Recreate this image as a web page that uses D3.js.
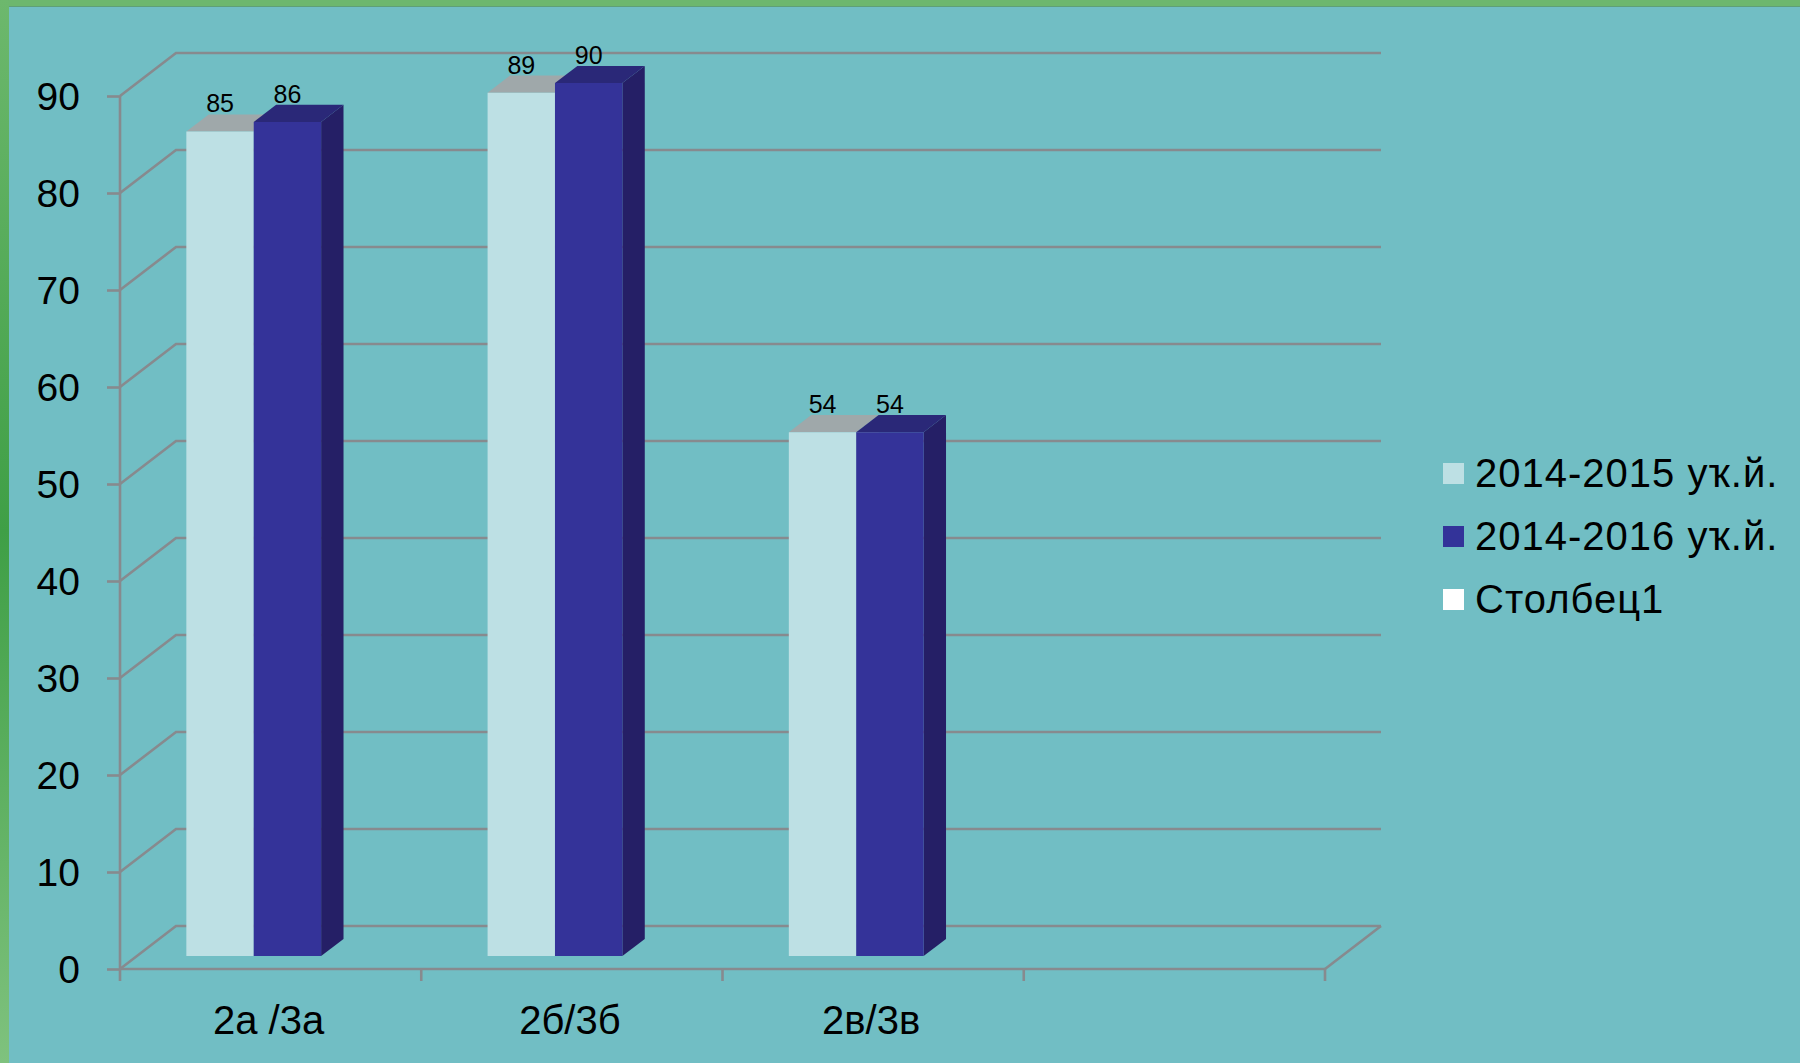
<!DOCTYPE html>
<html>
<head>
<meta charset="utf-8">
<script src="https://cdn.jsdelivr.net/npm/d3@7"></script>
<style>
  html, body { margin: 0; padding: 0; background: #71bec4; }
  svg { display: block; font-family: "Liberation Sans", Arial, sans-serif; }
</style>
</head>
<body>
<svg id="chart" width="1800" height="1063"></svg>
<script>
// ---- data ----
const categories = ["2а /3а", "2б/3б", "2в/3в", ""];
const seriesNames = ["2014-2015 уҡ.й.", "2014-2016 уҡ.й.", "Столбец1"];
const series2015 = [85, 89, 54, null];
const series2016 = [86, 90, 54, null];
const seriesCol1 = [null, null, null, null];
const yTicks = [0, 10, 20, 30, 40, 50, 60, 70, 80, 90];

const seriesValues = [series2015, series2016, seriesCol1];
const frontColors = ["#bde0e4", "#343399", "#ffffff"];
const topColors = ["#9fa8aa", "#2a2878", "#e8e8e8"];
const sideColors = ["#95c4c8", "#251f66", "#d0d0d0"];
const legendColors = ["#bde0e4", "#333399", "#ffffff"];

const svg = d3.select("#chart");
const W = 1800, H = 1063;

// frame
const defs = svg.append("defs");
const g1 = defs.append("linearGradient").attr("id", "leftGreen").attr("x1", 0).attr("y1", 0).attr("x2", 0).attr("y2", 1);
g1.append("stop").attr("offset", "0%").attr("stop-color", "#6db86d");
g1.append("stop").attr("offset", "50%").attr("stop-color", "#3f9f46");
g1.append("stop").attr("offset", "100%").attr("stop-color", "#7fc27e");
svg.append("rect").attr("x", 0).attr("y", 0).attr("width", W).attr("height", H).attr("fill", "#6db76e");
svg.append("rect").attr("x", 0).attr("y", 0).attr("width", 9).attr("height", H).attr("fill", "url(#leftGreen)");
svg.append("rect").attr("x", 9).attr("y", 6).attr("width", W - 9).attr("height", H - 6).attr("fill", "#71bec4");
svg.append("line").attr("x1", 9).attr("x2", W).attr("y1", 6.5).attr("y2", 6.5).attr("stroke", "#5f9f78").attr("stroke-width", 1);

// scales
const x0 = d3.scaleBand().domain(d3.range(categories.length)).range([120, 1325]).paddingInner(0).paddingOuter(0);
const x1 = d3.scaleBand().domain(d3.range(seriesNames.length)).range([0, x0.bandwidth()]).paddingInner(0).paddingOuter(0.735);
const y = d3.scaleLinear().domain([0, 90]).range([969, 96]);

// 3D depth projection
const DX = 56, DY = -43;
const P = (x, yy, d) => [x + d * DX, yy + d * DY];
const gridColor = "#878a8e";

const grid = svg.append("g").attr("stroke", gridColor).attr("stroke-width", 2.6).attr("fill", "none");
yTicks.forEach(v => {
  const a = P(x0.range()[0], y(v), 0), b = P(x0.range()[0], y(v), 1), c = P(x0.range()[1], y(v), 1);
  grid.append("path").attr("d", `M${a[0]},${a[1]}L${b[0]},${b[1]}L${c[0]},${c[1]}`);
});
{
  const a = P(x0.range()[1], y(0), 0), b = P(x0.range()[1], y(0), 1);
  grid.append("line").attr("x1", a[0]).attr("y1", a[1]).attr("x2", b[0]).attr("y2", b[1]);
}

// y axis
const yAxis = svg.append("g").attr("transform", `translate(${x0.range()[0]},0)`)
  .call(d3.axisLeft(y).tickValues(yTicks).tickSize(13).tickPadding(27).tickSizeOuter(0));
yAxis.select(".domain").attr("stroke", gridColor).attr("stroke-width", 2.6).attr("d", `M0,${y(90)}V${y(0)}`);
yAxis.selectAll(".tick line").attr("stroke", gridColor).attr("stroke-width", 2.6);
yAxis.selectAll(".tick text").attr("fill", "#000").attr("font-size", 39).attr("font-family", "Liberation Sans, Arial, sans-serif").attr("dy", "0.35em");

// x axis line and boundary ticks
const xg = svg.append("g").attr("stroke", gridColor).attr("stroke-width", 2.6);
xg.append("line").attr("x1", x0.range()[0]).attr("x2", x0.range()[1]).attr("y1", y(0)).attr("y2", y(0));
const bounds = categories.map((c, i) => x0(i)).concat([x0.range()[1]]);
xg.selectAll("line.tick").data(bounds).join("line").attr("class", "tick")
  .attr("x1", d => d).attr("x2", d => d).attr("y1", y(0)).attr("y2", y(0) + 12);

svg.append("g").selectAll("text").data(categories).join("text")
  .attr("x", (d, i) => x0(i) + x0.bandwidth() / 2 - 2)
  .attr("y", 1034)
  .attr("text-anchor", "middle").attr("font-size", 40).attr("fill", "#000")
  .text(d => d);

// bars
const D0 = 0.30, D1 = 0.70;
const barsG = svg.append("g");
seriesValues.forEach((vals, s) => {
  vals.forEach((v, i) => {
    if (v == null) return;
    const xl = x0(i) + x1(s), xr = xl + x1.bandwidth();
    const yt = y(v), yb = y(0);
    const fl = P(xl, yt, D0), fr = P(xr, yt, D0), frb = P(xr, yb, D0), flb = P(xl, yb, D0);
    const bl = P(xl, yt, D1), br = P(xr, yt, D1), brb = P(xr, yb, D1);
    const g = barsG.append("g");
    g.append("path").attr("d", `M${fr}L${br}L${brb}L${frb}Z`).attr("fill", sideColors[s]);
    g.append("path").attr("d", `M${fl}L${bl}L${br}L${fr}Z`).attr("fill", topColors[s]);
    g.append("path").attr("d", `M${fl}L${fr}L${frb}L${flb}Z`).attr("fill", frontColors[s]);
  });
});
// value labels
seriesValues.forEach((vals, s) => {
  vals.forEach((v, i) => {
    if (v == null) return;
    const xc = x0(i) + x1(s) + x1.bandwidth() / 2;
    const pf = P(xc, y(v), D0), pb = P(xc, y(v), D1);
    svg.append("text").attr("x", pf[0]).attr("y", pb[1] - 2)
      .attr("text-anchor", "middle").attr("font-size", 25).attr("fill", "#000").text(v);
  });
});

// legend
const legend = svg.append("g");
seriesNames.forEach((name, s) => {
  const cy = 473 + s * 63;
  legend.append("rect").attr("x", 1443).attr("y", cy - 10).attr("width", 21).attr("height", 21).attr("fill", legendColors[s]);
  legend.append("text").attr("x", 1475).attr("y", cy).attr("dy", "0.36em").attr("font-size", 40)
    .attr("letter-spacing", 1).attr("fill", "#000").text(name);
});
</script>
</body>
</html>
